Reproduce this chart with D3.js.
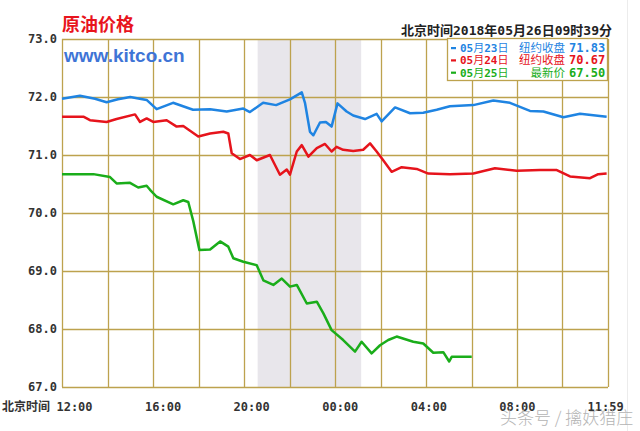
<!DOCTYPE html>
<html>
<head>
<meta charset="utf-8">
<script src="https://cdn.jsdelivr.net/npm/d3@7"></script>
<style>
  html, body { margin: 0; padding: 0; background: #ffffff; }
  svg { display: block; }
</style>
</head>
<body>
<svg id="chart" width="640" height="431"></svg>
<script>
// ---- data (hours after 12:00 Beijing time) ----
const yTicks = [67, 68, 69, 70, 71, 72, 73];
const xTickHours = [0, 4, 8, 12, 16, 20, 23.98];
const xTickLabels = ["12:00", "16:00", "20:00", "00:00", "04:00", "08:00", "11:59"];
const shadeRange = [8.6, 13.15];

const blueHours = [0, 0.79, 1.45, 1.96, 2.46, 3.0, 3.72, 4.16, 4.88, 5.76, 6.51, 7.24, 7.97, 8.26, 8.84, 9.41, 10.02, 10.54, 10.68, 10.9, 11.05, 11.34, 11.6, 11.85, 12.11, 12.51, 12.8, 13.32, 13.83, 14.05, 14.64, 15.3, 15.88, 16.47, 17.05, 18.08, 18.96, 19.69, 20.57, 21.16, 22.04, 22.77, 23.94];
const blueValues = [71.97, 72.02, 71.97, 71.91, 71.96, 72.0, 71.95, 71.79, 71.9, 71.78, 71.79, 71.75, 71.8, 71.74, 71.9, 71.86, 71.96, 72.08, 71.9, 71.4, 71.34, 71.56, 71.57, 71.49, 71.89, 71.75, 71.68, 71.62, 71.71, 71.58, 71.82, 71.72, 71.73, 71.78, 71.84, 71.86, 71.94, 71.9, 71.76, 71.75, 71.65, 71.71, 71.66];

const redHours = [0, 0.94, 1.23, 1.96, 2.4, 3.21, 3.43, 3.72, 4.01, 4.6, 5.04, 5.33, 5.99, 6.51, 7.09, 7.31, 7.46, 7.82, 8.26, 8.56, 9.14, 9.58, 9.88, 10.02, 10.32, 10.54, 10.83, 11.2, 11.56, 11.85, 12.07, 12.36, 12.8, 13.24, 13.54, 13.83, 14.12, 14.49, 14.93, 15.59, 16.1, 17.05, 18.08, 19.03, 19.99, 21.01, 21.75, 22.33, 23.21, 23.57, 23.94];
const redValues = [71.66, 71.66, 71.6, 71.57, 71.62, 71.7, 71.57, 71.63, 71.57, 71.6, 71.49, 71.5, 71.32, 71.37, 71.4, 71.37, 71.03, 70.93, 71.0, 70.91, 71.0, 70.66, 70.75, 70.66, 71.06, 71.17, 70.97, 71.12, 71.19, 71.06, 71.14, 71.09, 71.07, 71.09, 71.2, 71.06, 70.91, 70.71, 70.79, 70.76, 70.68, 70.67, 70.68, 70.77, 70.73, 70.74, 70.74, 70.63, 70.6, 70.67, 70.68];

const greenHours = [0, 1.38, 2.11, 2.4, 2.99, 3.35, 3.72, 3.87, 4.16, 4.89, 5.33, 5.55, 5.77, 6.04, 6.51, 6.95, 7.31, 7.53, 7.97, 8.56, 8.85, 9.29, 9.66, 10.02, 10.32, 10.76, 11.2, 11.49, 11.85, 12.36, 12.88, 13.17, 13.61, 13.98, 14.34, 14.71, 15.44, 15.88, 16.32, 16.76, 17.02, 17.13, 18.01];
const greenValues = [70.67, 70.67, 70.62, 70.51, 70.52, 70.44, 70.47, 70.4, 70.28, 70.15, 70.22, 70.19, 69.86, 69.36, 69.37, 69.51, 69.42, 69.22, 69.16, 69.1, 68.84, 68.76, 68.87, 68.73, 68.76, 68.44, 68.47, 68.27, 67.98, 67.81, 67.61, 67.78, 67.58, 67.72, 67.81, 67.87, 67.78, 67.75, 67.59, 67.6, 67.44, 67.52, 67.52];

const legendDates = ["05月23日", "05月24日", "05月25日"];
const legendLabels = ["纽约收盘", "纽约收盘", "最新价"];
const legendValues = ["71.83", "70.67", "67.50"];

// ---- styling ----
const colors = ["#1f84e2", "#e6141c", "#1aad1a"];
const gridColor = "#bda24e";
const monoFont = "'DejaVu Sans Mono', 'Liberation Mono', monospace";
const cjkFont = "'Noto Sans CJK SC', sans-serif";

const svg = d3.select("#chart");
const plot = { left: 62, right: 608, top: 39, bottom: 387 };

const x = d3.scaleLinear().domain([0, 24]).range([plot.left, plot.right]);
const y = d3.scaleLinear().domain([67, 73]).range([plot.bottom, plot.top]);
const xLabel = d3.scaleLinear().domain([0, 24]).range([74.5, 606]);

// faint page edge line
svg.append("line").attr("x1", 627.5).attr("x2", 627.5).attr("y1", 0).attr("y2", 431)
  .attr("stroke", "#ececec").attr("stroke-width", 1);

// shaded session
svg.append("rect")
  .attr("x", x(shadeRange[0])).attr("y", plot.top)
  .attr("width", x(shadeRange[1]) - x(shadeRange[0]))
  .attr("height", plot.bottom - plot.top)
  .attr("fill", "#e8e6eb");

// grid
const g = svg.append("g");
g.selectAll("line.h").data(yTicks).join("line")
  .attr("x1", plot.left).attr("x2", plot.right)
  .attr("y1", d => Math.round(y(d)) + 0.5).attr("y2", d => Math.round(y(d)) + 0.5)
  .attr("stroke", gridColor).attr("stroke-width", 1.3);
g.selectAll("line.v").data(d3.range(0, 25, 2)).join("line")
  .attr("y1", plot.top).attr("y2", plot.bottom)
  .attr("x1", d => Math.round(x(d)) + 0.5).attr("x2", d => Math.round(x(d)) + 0.5)
  .attr("stroke", gridColor).attr("stroke-width", 1.3);

// y labels
svg.append("g").selectAll("text").data(yTicks).join("text")
  .attr("x", 57).attr("y", d => y(d))
  .attr("dy", "0.35em")
  .attr("text-anchor", "end")
  .attr("font-family", monoFont).attr("font-weight", "bold").attr("font-size", 12)
  .attr("fill", "#333")
  .text(d => d.toFixed(1));

// x labels
svg.append("g").selectAll("text").data(xTickHours).join("text")
  .attr("x", d => xLabel(d)).attr("y", 411)
  .attr("text-anchor", "middle")
  .attr("font-family", monoFont).attr("font-weight", "bold").attr("font-size", 12)
  .attr("fill", "#333")
  .text((d, i) => xTickLabels[i]);
svg.append("text").attr("x", 2).attr("y", 411)
  .attr("font-family", cjkFont).attr("font-weight", "bold").attr("font-size", 12)
  .attr("fill", "#333").text("北京时间");

// lines
const series = [
  { hours: blueHours, values: blueValues },
  { hours: redHours, values: redValues },
  { hours: greenHours, values: greenValues }
];
const line = d3.line().x(d => x(d[0])).y(d => y(d[1])).curve(d3.curveLinear);
series.forEach((s, i) => {
  svg.append("path")
    .attr("d", line(s.hours.map((h, j) => [h, s.values[j]])))
    .attr("fill", "none").attr("stroke", colors[i])
    .attr("stroke-width", 2.5).attr("stroke-linejoin", "round");
});

// titles
svg.append("text").attr("x", 62).attr("y", 31)
  .attr("font-family", cjkFont).attr("font-weight", "bold").attr("font-size", 18)
  .attr("fill", "#e8141c").text("原油价格");
svg.append("text").attr("x", 64).attr("y", 62)
  .attr("font-family", "'Liberation Sans', Arial, sans-serif").attr("font-weight", "bold").attr("font-size", 19)
  .attr("fill", "#3e74d6").text("www.kitco.cn");

const hdr = svg.append("text").attr("x", 612).attr("y", 35)
  .attr("text-anchor", "end").attr("font-size", 13).attr("fill", "#222");
[["北京时间", 0], ["2018", 1], ["年", 0], ["05", 1], ["月", 0], ["26", 1], ["日", 0], ["09", 1], ["时", 0], ["39", 1], ["分", 0]]
  .forEach(([t, isNum]) => {
    hdr.append("tspan").attr("font-family", isNum ? monoFont : cjkFont)
      .attr("font-weight", "bold").text(t);
  });

// legend
const leg = svg.append("g");
leg.append("rect").attr("x", 447.5).attr("y", 38.5).attr("width", 160).attr("height", 42)
  .attr("fill", "#fff").attr("stroke", gridColor).attr("stroke-width", 1.3);
legendDates.forEach((d, i) => {
  const yy = 52 + i * 12.3;
  leg.append("rect").attr("x", 451).attr("y", yy - 5).attr("width", 5).attr("height", 2.2)
    .attr("fill", colors[i]);
  const t = leg.append("text").attr("x", 460).attr("y", yy).attr("font-size", 11).attr("fill", colors[i]);
  t.append("tspan").attr("font-family", monoFont).attr("font-weight", "bold").text(d.slice(0, 2));
  t.append("tspan").attr("font-family", cjkFont).text("月");
  t.append("tspan").attr("font-family", monoFont).attr("font-weight", "bold").text(d.slice(3, 5));
  t.append("tspan").attr("font-family", cjkFont).text("日");
  leg.append("text").attr("x", 565).attr("y", yy).attr("text-anchor", "end")
    .attr("font-family", cjkFont).attr("font-size", 11.5).attr("fill", colors[i]).text(legendLabels[i]);
  leg.append("text").attr("x", 569).attr("y", yy)
    .attr("font-family", monoFont).attr("font-weight", "bold").attr("font-size", 12)
    .attr("fill", colors[i]).text(legendValues[i]);
});

// watermark
svg.append("text").attr("x", 500).attr("y", 424)
  .attr("font-family", cjkFont).attr("font-size", 17).attr("font-weight", 300)
  .attr("fill", "#b4b4b4").text("头条号 / 擒妖猎庄");
</script>
</body>
</html>
